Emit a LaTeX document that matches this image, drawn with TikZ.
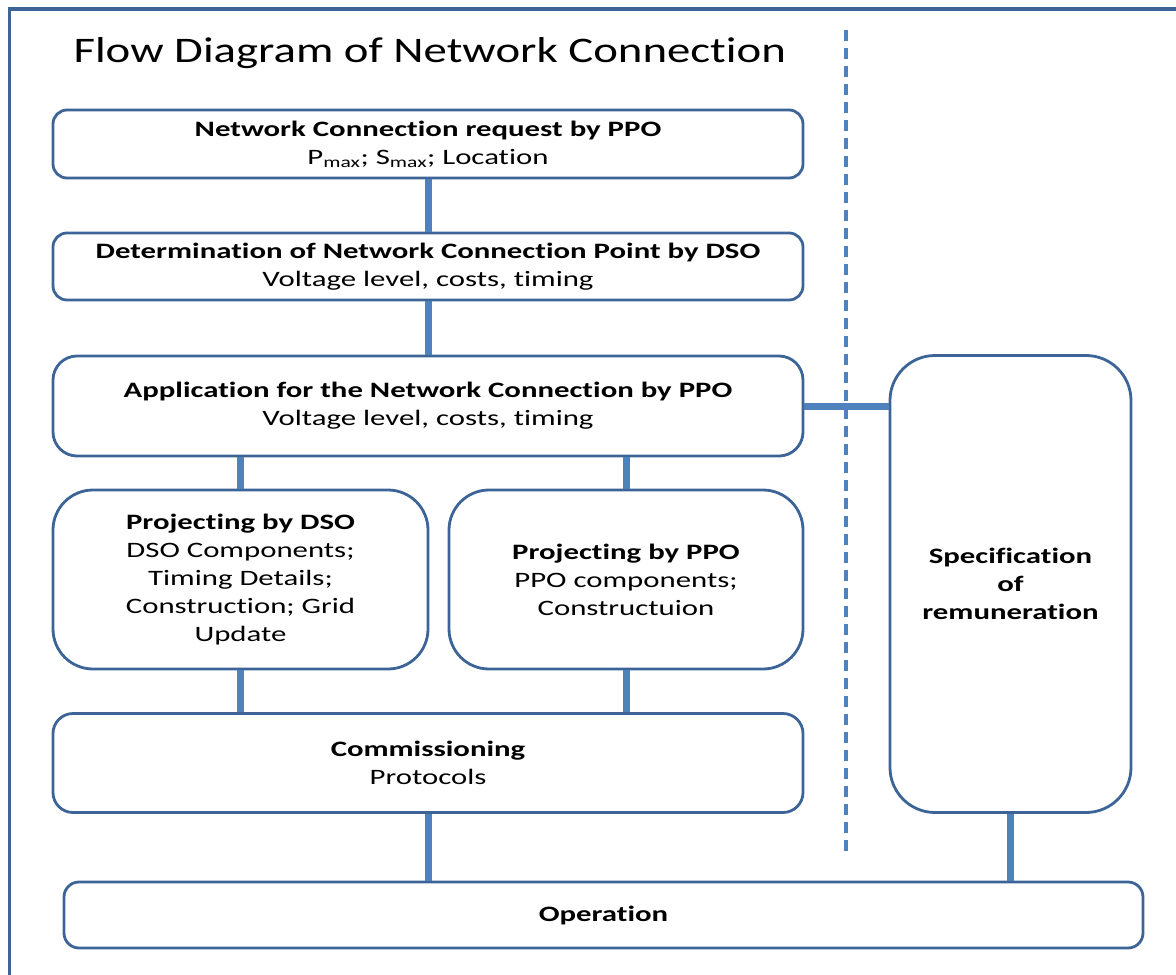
\documentclass[tikz,border=0pt]{standalone}
\usepackage{fontspec}
\setmainfont{Carlito}[FakeStretch=1.40, Ligatures=NoCommon]
\newfontfamily\titlefont{Carlito}[FakeStretch=1.30, Ligatures=NoCommon]
\definecolor{boxblue}{HTML}{3D6497}
\definecolor{linkblue}{HTML}{4F81BD}

\begin{document}
\begin{tikzpicture}[x=1pt, y=-1pt,
    box/.style={draw=boxblue, line width=2.8pt, fill=white, align=center,
        inner sep=0pt, font=\fontsize{22}{28}\selectfont},
    link/.style={linkblue, line width=7pt},
    divider/.style={linkblue, line width=3.2pt, dash pattern=on 11pt off 7pt}
]
        \useasboundingbox (0,0) rectangle (1176,975);
        \clip (0,0) rectangle (1176,975);

        % Outer frame
        \draw[boxblue, line width=3.5pt] (9.5,1000) -- (9.5,9) -- (1200,9);

        % Title
        \node[anchor=west, font=\titlefont\fontsize{36}{40}\selectfont] (title) at (70,53)
            {Flow Diagram of Network Connection};

        % Divider between the two columns
        \coordinate (dtop) at (846,30);
        \coordinate (dbot) at (846,858);
        \draw[divider] (dtop) -- (dbot);

        % Left column
        \node[box, rounded corners=14pt, minimum width=750pt, minimum height=68pt] (req) at (428,144)
            {\textbf{Network Connection request by PPO}\\P\textsubscript{max}; S\textsubscript{max}; Location};
        \node[box, rounded corners=14pt, minimum width=750pt, minimum height=67pt] (det) at (428,266.5)
            {\textbf{Determination of Network Connection Point by DSO}\\Voltage level, costs, timing};
        \node[box, rounded corners=24pt, minimum width=750pt, minimum height=100pt] (app) at (428,406)
            {\textbf{Application for the Network Connection by PPO}\\Voltage level, costs, timing};
        \node[box, rounded corners=40pt, minimum width=375pt, minimum height=179pt] (projdso) at (240.5,579.5)
            {\textbf{Projecting by DSO}\\DSO Components;\\Timing Details;\\Construction; Grid\\Update};
        \node[box, rounded corners=40pt, minimum width=354pt, minimum height=179pt] (projppo) at (626,579.5)
            {\textbf{Projecting by PPO}\\PPO components;\\Constructuion};
        \node[box, rounded corners=20pt, minimum width=750pt, minimum height=99pt] (comm) at (428,763)
            {\textbf{Commissioning}\\Protocols};

        % Right column
        \node[box, rounded corners=45pt, minimum width=241pt, minimum height=457pt] (spec) at (1010.5,584)
            {\textbf{Specification}\\\textbf{of}\\\textbf{remuneration}};

        % Bottom
        \node[box, rounded corners=15pt, minimum width=1079pt, minimum height=66pt] (oper) at (603.5,915)
            {\textbf{Operation}};

        % Connectors
        \draw[link] (req.south) -- (det.north);
        \draw[link] (det.south) -- (app.north);
        \foreach \p in {projdso, projppo} {
            \draw[link] (app.south -| \p) -- (\p.north);
            \draw[link] (\p.south) -- (comm.north -| \p);
        }
        \draw[link] (app.east) -- (app.east -| spec.west);
        \draw[link] (comm.south) -- (comm.south |- oper.north);
        \draw[link] (spec.south) -- (spec.south |- oper.north);

\end{tikzpicture}
\end{document}
